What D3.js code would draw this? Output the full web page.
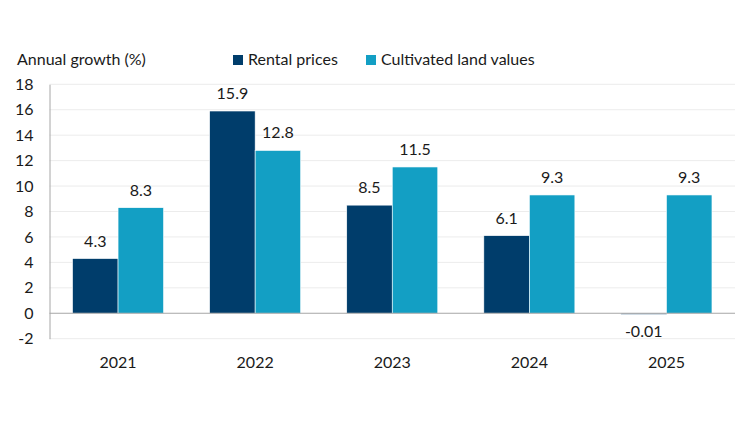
<!DOCTYPE html>
<html>
<head>
<meta charset="utf-8">
<script src="https://cdn.jsdelivr.net/npm/d3@7"></script>
<style>
  body { margin: 0; background: #fff; }
  text { font-family: Lato, "Open Sans", sans-serif; fill: #1a1a1a; }
</style>
</head>
<body>
<div id="chart"></div>
<script>
// data
var years = ["2021", "2022", "2023", "2024", "2025"];
var rentalPrices = [4.3, 15.9, 8.5, 6.1, -0.01];
var landValues = [8.3, 12.8, 11.5, 9.3, 9.3];
var seriesNames = ["Rental prices", "Cultivated land values"];
var yTicks = [-2, 0, 2, 4, 6, 8, 10, 12, 14, 16, 18];

var colors = ["#003d6b", "#139fc4"];
var fontSize = "16px";
var W = 750, H = 422;
var plotLeft = 49.5, plotRight = 735, plotTop = 84.3, plotBottom = 338.7;

var svg = d3.select("#chart").append("svg")
    .attr("width", W)
    .attr("height", H);

var x = d3.scaleBand()
    .domain(years)
    .range([plotLeft, plotRight])
    .paddingInner(0.336)
    .paddingOuter(0.168);

var sub = d3.scaleBand()
    .domain([0, 1])
    .range([0, x.bandwidth()]);

var y = d3.scaleLinear()
    .domain([-2, 18])
    .range([plotBottom, plotTop]);

// gridlines
svg.append("g")
    .selectAll("line")
    .data(yTicks.filter(function (d) { return d != 0; }))
    .enter()
    .append("line")
    .attr("x1", plotLeft)
    .attr("x2", plotRight)
    .attr("y1", function (d) { return y(d); })
    .attr("y2", function (d) { return y(d); })
    .attr("stroke", "#ececec")
    .attr("stroke-width", 1);

// y axis (plain hyphen for negatives, like the reference)
var yAxis = d3.axisLeft(y)
    .tickValues(yTicks)
    .tickFormat(function (d) { return String(d); })
    .tickSize(0)
    .tickPadding(16);
var ya = svg.append("g")
    .attr("transform", "translate(" + plotLeft + ",0)")
    .call(yAxis);
ya.select(".domain").attr("stroke", "#a6a6a6");
ya.selectAll("text")
    .style("font-size", fontSize)
    .style("font-family", "Lato, sans-serif")
    .attr("fill", "#1a1a1a");

// bars
var rows = years.map(function (yr, i) {
    return { year: yr, values: [rentalPrices[i], landValues[i]] };
});

var groups = svg.selectAll(".grp")
    .data(rows)
    .enter()
    .append("g")
    .attr("class", "grp")
    .attr("transform", function (d) { return "translate(" + x(d.year) + ",0)"; });

groups.selectAll("rect")
    .data(function (d) { return d.values.map(function (v, k) { return { v: v, k: k }; }); })
    .enter()
    .append("rect")
    .attr("x", function (d) { return sub(d.k); })
    .attr("width", sub.bandwidth())
    .attr("y", function (d) { return d.v >= 0 ? y(d.v) : y(0); })
    .attr("height", function (d) { return Math.max(Math.abs(y(d.v) - y(0)), 1.2); })
    .attr("fill", function (d) { return colors[d.k]; })
    .attr("stroke", "#fff")
    .attr("stroke-width", 0.6);

// value labels
groups.selectAll(".lbl")
    .data(function (d) { return d.values.map(function (v, k) { return { v: v, k: k }; }); })
    .enter()
    .append("text")
    .attr("class", "lbl")
    .attr("x", function (d) { return sub(d.k) + sub.bandwidth() / 2; })
    .attr("y", function (d) { return d.v >= 0 ? y(d.v) - 12 : y(0) + 24; })
    .attr("text-anchor", "middle")
    .style("font-size", fontSize)
    .text(function (d) { return d.v; });

// zero line
svg.append("line")
    .attr("x1", plotLeft)
    .attr("x2", plotRight)
    .attr("y1", y(0))
    .attr("y2", y(0))
    .attr("stroke", "#a6a6a6")
    .attr("stroke-width", 1);

// x axis labels
var xAxis = d3.axisBottom(x).tickSize(0).tickPadding(0);
var xa = svg.append("g")
    .attr("transform", "translate(0," + (plotBottom + 18) + ")")
    .call(xAxis);
xa.select(".domain").remove();
xa.selectAll("text")
    .style("font-size", fontSize)
    .style("font-family", "Lato, sans-serif")
    .attr("fill", "#1a1a1a");

// title
svg.append("text")
    .attr("x", 17)
    .attr("y", 65)
    .style("font-size", fontSize)
    .text("Annual growth (%)");

// legend
var legX = [233, 366];
var leg = svg.selectAll(".leg")
    .data(seriesNames)
    .enter()
    .append("g")
    .attr("class", "leg")
    .attr("transform", function (d, i) { return "translate(" + legX[i] + ",55)"; });
leg.append("rect")
    .attr("width", 10)
    .attr("height", 10)
    .attr("fill", function (d, i) { return colors[i]; });
leg.append("text")
    .attr("x", 15)
    .attr("y", 10)
    .style("font-size", fontSize)
    .text(function (d) { return d; });
</script>
</body>
</html>
